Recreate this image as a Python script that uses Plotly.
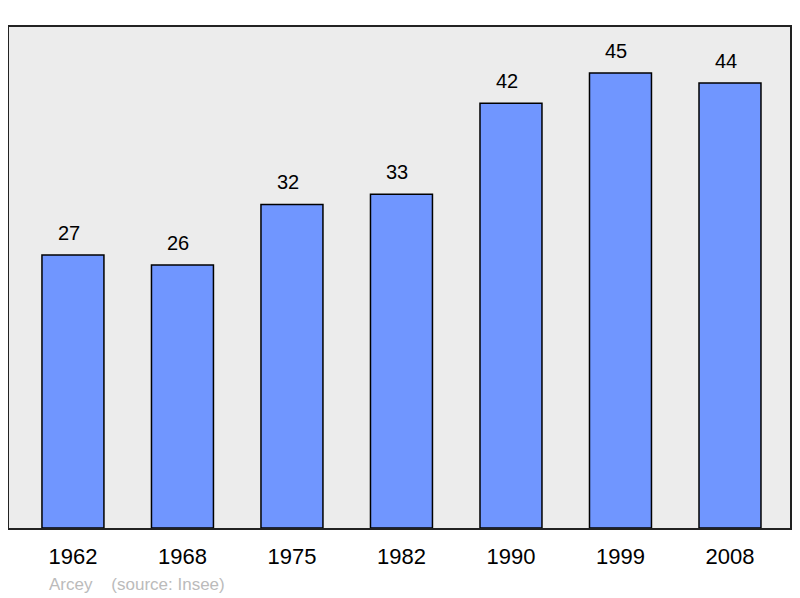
import plotly.graph_objects as go

years = ["1962", "1968", "1975", "1982", "1990", "1999", "2008"]
population = [27, 26, 32, 33, 42, 45, 44]
commune = "Arcey"
source = "(source: Insee)"

fig = go.Figure()
fig.add_trace(go.Bar(
    x=years, y=population, width=0.566,
    marker=dict(color="#7096FF", line=dict(color="#000000", width=1.5)),
    hoverinfo="x+y",
))
for i, v in enumerate(population):
    fig.add_annotation(x=i, y=v, text=str(v), showarrow=False,
                       yanchor="bottom", yshift=9, xshift=-4,
                       font=dict(size=20, color="#000000"))

fig.add_annotation(xref="paper", yref="paper", x=(47 - 9) / 781, y=-(584 - 528) / 501,
                   xanchor="left", yanchor="middle", showarrow=False,
                   text=commune + "&nbsp;&nbsp;&nbsp;&nbsp;" + source,
                   font=dict(size=17, color="#BBBBBB"))

fig.update_layout(
    width=792, height=590,
    margin=dict(l=1, r=10, t=19, b=70),
    paper_bgcolor="#FFFFFF", plot_bgcolor="#ECECEC",
    font=dict(family="Liberation Sans, Arial, sans-serif", color="#000000"),
    showlegend=False,
)
fig.update_xaxes(type="category", range=[-0.584, 6.548],
                 showline=True, linecolor="#222222", linewidth=2, mirror=True,
                 ticks="outside", ticklen=8, tickcolor="rgba(0,0,0,0)",
                 tickfont=dict(size=22), showgrid=False)
fig.update_yaxes(range=[0, 49.55], showline=True, linecolor="#222222",
                 linewidth=2, mirror=True, showticklabels=False,
                 showgrid=False, zeroline=False, ticks="")

fig.write_html("out.html")
